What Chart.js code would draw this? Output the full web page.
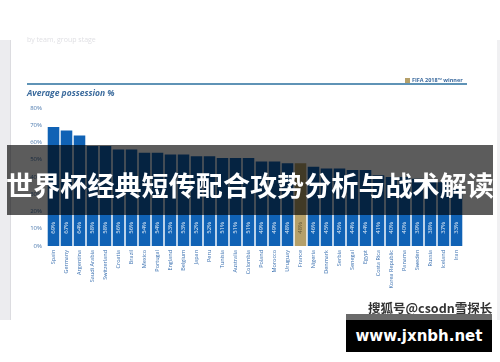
<!DOCTYPE html>
<html>
<head>
<meta charset="utf-8">
<script src="https://cdn.jsdelivr.net/npm/chart.js@4.4.0/dist/chart.umd.min.js"></script>
<style>
  body { margin: 0; background: #fff; }
  #wrap { position: relative; width: 500px; height: 362px; overflow: hidden; font-family: "Open Sans", Lato, sans-serif; }
  #wrap canvas { position: absolute; left: 0; top: 0; }
  .abs { position: absolute; }
  #strip { left: 0; top: 40px; width: 10px; height: 280px; background: #ececef; border-right: 1px solid #dcdce0; }
  #rstrip { left: 497px; top: 40px; width: 3px; height: 280px; background: #f0f0f2; }
  #sub { left: 27px; top: 35px; font-size: 7px; color: #e0e0e4; }
  #rule { left: 27px; top: 83px; width: 440px; height: 2px; background: #5f93b6; }
  #title { left: 27px; top: 87px; font-size: 8.5px; font-weight: 700; font-style: italic; color: #3a6a9c; }
  #legend { left: 405px; top: 76px; font-size: 5.5px; font-weight: 700; color: #3b6a9e; white-space: nowrap; }
  #legend i { display: inline-block; width: 5px; height: 5px; background: #b5a06a; margin-right: 2px; vertical-align: -1px; }
  #band { left: 7px; top: 145px; width: 486px; height: 70px; background: rgba(0,0,0,0.64); }
  #bandtxt { left: 0; top: 166px; width: 500px; text-align: center; font-family: "Noto Sans CJK SC", sans-serif; font-weight: 700; font-size: 27px; line-height: 38px; color: #fff; white-space: nowrap; letter-spacing: 0.1px; }
  #mark { left: 368px; top: 298px; font-family: "Noto Sans CJK SC", sans-serif; font-weight: 700; font-size: 12.5px; color: #333; white-space: nowrap;
          text-shadow: 1px 0 #fff, -1px 0 #fff, 0 1px #fff, 0 -1px #fff; }
  #site { left: 346px; top: 314px; width: 146px; height: 38px; background: #000; border-top: 6px solid #6a6a6a; box-sizing: border-box;
          color: #fff; font-family: "DejaVu Sans", sans-serif; font-weight: 700; font-size: 15px; line-height: 32px; text-align: center; white-space: nowrap; }
</style>
</head>
<body>
<div id="wrap">
  <div class="abs" id="strip"></div>
  <div class="abs" id="rstrip"></div>
  <canvas id="c" width="500" height="362"></canvas>
  <div class="abs" id="sub">by team, group stage</div>
  <div class="abs" id="rule"></div>
  <div class="abs" id="title">Average possession %</div>
  <div class="abs" id="legend"><i></i>FIFA 2018™ winner</div>
  <div class="abs" id="band"></div>
  <div class="abs" id="bandtxt">世界杯经典短传配合攻势分析与战术解读</div>
  <div class="abs" id="mark">搜狐号@csodn雪探长</div>
  <div class="abs" id="site">www.jxnbh.net</div>
</div>
<script>
const teams = ['Spain', 'Germany', 'Argentina', 'Saudi Arabia', 'Switzerland', 'Croatia', 'Brazil', 'Mexico',
  'Portugal', 'England', 'Belgium', 'Japan', 'Peru', 'Tunisia', 'Australia', 'Colombia', 'Poland', 'Morocco',
  'Uruguay', 'France', 'Nigeria', 'Denmark', 'Serbia', 'Senegal', 'Egypt', 'Costa Rica', 'Korea Republic',
  'Panama', 'Sweden', 'Russia', 'Iceland', 'Iran'];
const possession = [69, 67, 64, 58, 58, 56, 56, 54, 54, 53, 53, 52, 52, 51, 51, 51, 49, 49, 48, 48, 46, 45, 45,
  44, 44, 41, 40, 40, 39, 38, 37, 33];
const winner = 'France';
const yTickLabels = ['0%', '10%', '20%', '30%', '40%', '50%', '60%', '70%', '80%'];

const barColors = teams.map(t => t === winner ? '#b5a06a' : '#1062b5');

// white % labels inside the bottom of each bar
const valueLabels = {
  id: 'valueLabels',
  afterDatasetsDraw(chart) {
    const ctx = chart.ctx;
    const y = chart.scales.y;
    const meta = chart.getDatasetMeta(0);
    ctx.save();
    ctx.font = '6px "Open Sans", sans-serif';
    ctx.textAlign = 'center';
    ctx.textBaseline = 'middle';
    meta.data.forEach((bar, i) => {
      ctx.save();
      ctx.translate(bar.x, y.getPixelForValue(10.5));
      ctx.rotate(-Math.PI / 2);
      ctx.fillStyle = teams[i] === winner ? 'rgba(90,80,50,0.9)' : 'rgba(255,255,255,0.9)';
      ctx.fillText(possession[i] + '%', 0, 0);
      ctx.restore();
    });
    ctx.restore();
  }
};

new Chart(document.getElementById('c'), {
  type: 'bar',
  data: {
    labels: teams,
    datasets: [{
      label: 'Average possession %',
      data: possession,
      backgroundColor: barColors,
      barPercentage: 0.89,
      categoryPercentage: 1
    }]
  },
  options: {
    responsive: false,
    animation: false,
    layout: { padding: { left: 12, right: 37, top: 108, bottom: 56 } },
    plugins: { legend: { display: false }, tooltip: { enabled: false } },
    scales: {
      x: {
        grid: { display: false, drawTicks: false },
        border: { display: false },
        ticks: { autoSkip: false, minRotation: 90, maxRotation: 90, padding: 4,
                 color: '#3a70b0', font: { size: 5.5, family: '"Open Sans", sans-serif' } },
        afterFit(s) { s.height = 60; }
      },
      y: {
        min: 0, max: 80,
        grid: { display: false, drawTicks: false },
        border: { display: false },
        ticks: { stepSize: 10, padding: 5, color: '#4a78ad', font: { size: 6, family: '"Open Sans", sans-serif' },
                 callback: v => yTickLabels[Math.round(v / 10)] },
        afterFit(s) { s.width = 35; }
      }
    }
  },
  plugins: [valueLabels]
});
</script>
</body>
</html>
